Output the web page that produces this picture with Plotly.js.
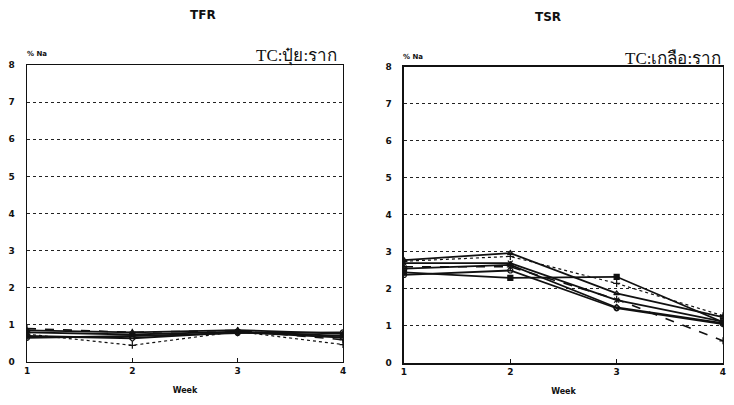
<!DOCTYPE html>
<html>
<head>
<meta charset="utf-8">
<script src="https://cdn.plot.ly/plotly-3.0.1.min.js"></script>
<style>html,body{margin:0;padding:0;background:#fff;}#chart{width:734px;height:405px;}</style>
</head>
<body>
<div id="chart"></div>
<script>
// Data
const weeks = [1, 2, 3, 4];
const yTicks = [0, 1, 2, 3, 4, 5, 6, 7, 8];
const xTicks = [1, 2, 3, 4];

// TFR (left panel), % Na
const tfrA = [0.75, 0.45, 0.82, 0.47];
const tfrB = [0.85, 0.80, 0.86, 0.76];
const tfrC = [0.80, 0.74, 0.82, 0.70];
const tfrD = [0.70, 0.64, 0.80, 0.66];
const tfrE = [0.65, 0.70, 0.78, 0.80];
const tfrF = [0.90, 0.80, 0.85, 0.60];

// TSR (right panel), % Na
const tsrA = [2.75, 2.88, 2.15, 1.28];
const tsrB = [2.78, 2.97, 1.88, 1.24];
const tsrC = [2.70, 2.70, 1.70, 1.12];
const tsrD = [2.55, 2.65, 1.50, 1.08];
const tsrE = [2.38, 2.50, 1.48, 1.05];
const tsrF = [2.45, 2.30, 2.33, 1.10];
const tsrG = [2.60, 2.60, 1.72, 0.60];

const styles = [
  {dash: 'dot', width: 1.2, symbol: 'cross-thin-open'},
  {dash: 'solid', width: 1.8, symbol: 'triangle-up-open'},
  {dash: 'solid', width: 1.8, symbol: 'x-thin-open'},
  {dash: 'solid', width: 1.8, symbol: 'diamond-open'},
  {dash: 'solid', width: 1.8, symbol: 'circle-open'},
  {dash: 'solid', width: 1.8, symbol: 'square'},
  {dash: 'dash', width: 1.6, symbol: 'cross-thin-open'}
];

function mk(y, i, xa, ya) {
  const s = styles[i];
  return {
    x: weeks, y: y, xaxis: xa, yaxis: ya, type: 'scatter', mode: 'lines+markers',
    line: {color: '#111', width: s.width, dash: s.dash},
    marker: {symbol: s.symbol, size: 5, color: '#111', line: {color: '#111', width: 1.2}},
    showlegend: false, hoverinfo: 'skip'
  };
}

const left = [tfrA, tfrB, tfrC, tfrD, tfrE, tfrF];
const right = [tsrA, tsrB, tsrC, tsrD, tsrE, tsrF, tsrG];
const data = [];
left.forEach((y, i) => data.push(mk(y, i === 5 ? 6 : i, 'x', 'y')));
right.forEach((y, i) => data.push(mk(y, i, 'x2', 'y2')));

const tickFont = {family: 'DejaVu Sans, sans-serif', size: 9, color: '#111', weight: 'bold'};
function xax(domain, anchor) {
  return {
    domain: domain, anchor: anchor, range: [1, 4], tickvals: xTicks, ticktext: xTicks.map(String),
    showgrid: false, zeroline: false, showline: true, mirror: true, linecolor: '#111', linewidth: 1.5,
    ticks: 'inside', ticklen: 4, tickcolor: '#111', tickfont: tickFont,
    title: {text: 'Week', font: {family: 'DejaVu Sans, sans-serif', size: 8, color: '#111', weight: 'bold'}, standoff: 12}
  };
}
function yax(domain, anchor) {
  return {
    domain: domain, anchor: anchor, range: [0, 8], tickvals: yTicks, ticktext: yTicks.map(String),
    showgrid: true, gridcolor: '#222', griddash: 'dot', gridwidth: 1,
    zeroline: false, showline: true, mirror: true, linecolor: '#111', linewidth: 1.5,
    ticks: '', tickfont: tickFont, ticklabelstandoff: 9
  };
}

const layout = {
  width: 734, height: 405,
  margin: {l: 0, r: 0, t: 0, b: 0},
  paper_bgcolor: '#fff', plot_bgcolor: '#fff',
  xaxis: xax([0.0368, 0.4673], 'y'),
  yaxis: yax([0.1062, 0.8395], 'x'),
  xaxis2: xax([0.5504, 0.985], 'y2'),
  yaxis2: yax([0.1037, 0.8346], 'x2'),
  annotations: [
    {text: 'TFR', x: 0.256, y: 0.963, xref: 'paper', yref: 'paper', yanchor: 'middle', showarrow: false,
     font: {family: 'DejaVu Sans, sans-serif', size: 12, color: '#111', weight: 'bold'}},
    {text: 'TSR', x: 0.767, y: 0.958, xref: 'paper', yref: 'paper', yanchor: 'middle', showarrow: false,
     font: {family: 'DejaVu Sans, sans-serif', size: 12, color: '#111', weight: 'bold'}},
    {text: '% Na', x: 0.034, y: 0.866, xref: 'paper', yref: 'paper', xanchor: 'left', yanchor: 'middle', showarrow: false,
     font: {family: 'DejaVu Sans, sans-serif', size: 7, color: '#111', weight: 'bold'}},
    {text: '% Na', x: 0.547, y: 0.86, xref: 'paper', yref: 'paper', xanchor: 'left', yanchor: 'middle', showarrow: false,
     font: {family: 'DejaVu Sans, sans-serif', size: 7, color: '#111', weight: 'bold'}},
    {text: 'TC:ปุ๋ย:ราก', x: 0.462, y: 0.862, xref: 'paper', yref: 'paper', xanchor: 'right', yanchor: 'middle', showarrow: false,
     font: {family: 'Liberation Serif, serif', size: 17, color: '#111'}},
    {text: 'TC:เกลือ:ราก', x: 0.985, y: 0.855, xref: 'paper', yref: 'paper', xanchor: 'right', yanchor: 'middle', showarrow: false,
     font: {family: 'Liberation Serif, serif', size: 17, color: '#111'}}
  ]
};

Plotly.newPlot('chart', data, layout, {staticPlot: true, displayModeBar: false});
</script>
</body>
</html>
